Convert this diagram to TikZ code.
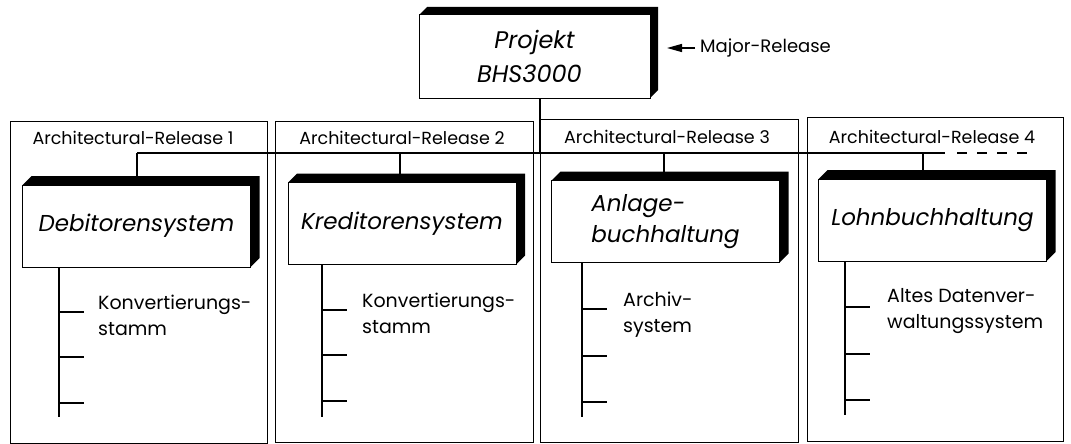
\documentclass[tikz,border=0pt]{standalone}
\usepackage{fontspec}
\setmainfont{Poppins}
\usetikzlibrary{arrows.meta}
\newcommand\mkdepth[2]{%
  \fill (#1.north west) -- ++(#2,-#2) -- ([shift={(#2pt,#2pt)}]#1.north east)
    -- ([shift={(#2pt,#2pt)}]#1.south east) -- (#1.south east) -- (#1.north east) -- cycle;}
\tikzset{
  frame/.style={draw, line width=1pt, inner sep=0pt, outer sep=0pt},
  sysbox/.style={draw, line width=1pt, fill=white, inner sep=0pt, outer sep=0pt,
    minimum width=228pt, minimum height=82pt, align=left,
    font=\itshape\fontsize{23}{31}\selectfont},
  rel/.style={font=\fontsize{17.5}{20}\selectfont, inner sep=0pt},
  sub/.style={font=\fontsize{19}{26}\selectfont, inner sep=0pt, align=left, anchor=north west},
  bus/.style={line width=2pt},
  trunk/.style={line width=2.5pt},
}
\begin{document}
\begin{tikzpicture}[x=1pt,y=-1pt]
\useasboundingbox (0,0) rectangle (1071,444);
% release frames
\node[frame, minimum width=257pt, minimum height=322pt] (f1) at (138.5,282) {};
\node[frame, minimum width=258pt, minimum height=321pt] (f2) at (404,281.5) {};
\node[frame, minimum width=258pt, minimum height=323pt] (f3) at (669,280.5) {};
\node[frame, minimum width=256pt, minimum height=324pt] (f4) at (935,279) {};
\node[rel] (r1) at (133,138) {Architectural-Release 1};
\node[rel] (r2) at (402,138) {Architectural-Release 2};
\node[rel] (r3) at (667,137) {Architectural-Release 3};
\node[rel] (r4) at (932,137) {Architectural-Release 4};
% project box
\node[sysbox, minimum width=231pt, minimum height=83pt, align=center,
  font=\itshape\fontsize{24}{34}\selectfont] (p) at (534.5,56.5) {Projekt\\BHS3000\hspace*{10pt}};
\mkdepth{p}{8}
\node[font=\fontsize{18}{22}\selectfont, inner sep=0pt, anchor=west] (major) at (700,48) {Major-Release};
\coordinate (arrs) at (695,48);
\coordinate (arre) at (667,48);
\draw[line width=1.3pt, -{Triangle[length=15pt,width=8pt]}] (arrs) -- (arre);
% system boxes
\node[sysbox] (b1) at (136.5,226) {Debitorensystem};
\node[sysbox] (b2) at (402,223.5) {Kreditorensystem};
\node[sysbox] (b3) at (665.5,221.5) {Anlage-\\buchhaltung};
\node[sysbox] (b4) at (932.5,220) {Lohnbuchhaltung};
\mkdepth{b1}{9}
\mkdepth{b2}{9}
\mkdepth{b3}{9}
\mkdepth{b4}{9}
% bus
\coordinate (busL) at (137,153);
\coordinate (busR) at (945,153);
\coordinate (dashL) at (957,153);
\coordinate (dashR) at (1028,153);
\draw[bus] (busL) -- (busR);
\draw[bus, dash pattern=on 10pt off 10pt] (dashL) -- (dashR);
\coordinate (pd) at ([xshift=5pt]p.south);
\draw[bus] (pd) -- (pd |- busL);
\coordinate (d1) at ([yshift=9pt]b1.north);
\coordinate (d2) at ([xshift=-2pt,yshift=9pt]b2.north);
\coordinate (d3) at ([xshift=-2pt,yshift=9pt]b3.north);
\coordinate (d4) at ([xshift=-10pt,yshift=9pt]b4.north);
\foreach \d in {d1,d2,d3,d4} \draw[bus] (\d) -- (\d |- busL);
% trunks
\coordinate (t1) at (59,417);
\coordinate (t2) at (322,417);
\coordinate (t3) at (582,417);
\coordinate (t4) at (845,415);
\draw[trunk] (b1.south -| t1) -- (t1);
\draw[trunk] (b2.south -| t2) -- (t2);
\draw[trunk] (b3.south -| t3) -- (t3);
\draw[trunk] (b4.south -| t4) -- (t4);
\foreach \t/\ya/\yb/\yc in {t1/312/357/403, t2/310/355/401, t3/309/356/402, t4/307/354/400} {
  \draw[trunk] (\t |- 0,\ya) -- ++(25,0);
  \draw[trunk] (\t |- 0,\yb) -- ++(25,0);
  \draw[trunk] (\t |- 0,\yc) -- ++(25,0);
}
\node[sub] (s1) at (98,295) {Konvertierungs-\\stamm};
\node[sub] (s2) at (362,293) {Konvertierungs-\\stamm};
\node[sub] (s3) at (623,292) {Archiv-\\system};
\node[sub] (s4) at (887,288) {Altes Datenver-\\waltungssystem};
\end{tikzpicture}
\end{document}
